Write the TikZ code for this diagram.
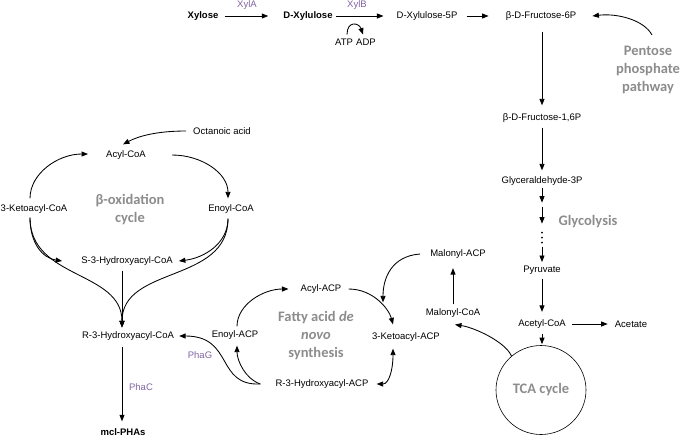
\documentclass[tikz,border=0pt]{standalone}
\usepackage{fontspec}
\setmainfont{Liberation Sans}
\newfontfamily\calibrifont{Carlito}
\usepackage{xcolor}
\usepackage{tikz}
\usetikzlibrary{arrows.meta,calc,shapes.geometric}

\definecolor{enzpurple}{RGB}{128,100,162}
\definecolor{cyclegray}{RGB}{140,140,140}

\begin{document}
\begin{tikzpicture}[x=1pt,y=1pt,yscale=-1,
  >={Triangle[length=6.5pt,width=5pt]},
  metab/.style={inner sep=2pt,font=\fontsize{9.5}{11}\selectfont},
  metabbf/.style={inner sep=2pt,font=\fontsize{9.5}{11}\selectfont\bfseries},
  enzyme/.style={inner sep=2pt,text=enzpurple,font=\fontsize{9.5}{11}\selectfont},
  cyclelbl/.style={align=center,text=cyclegray,font=\calibrifont\bfseries\fontsize{14.5}{18}\selectfont},
  reac/.style={->,line width=0.85pt}]
\path[use as bounding box] (0,0) rectangle (685,437);

% Text Node
\draw (203,16) node (xyl) [metabbf] {Xylose};
% Text Node
\draw (308,16) node (dxyl) [metabbf] {D-Xylulose};
% Text Node
\draw (427,16) node (dx5p) [metab] {D-Xylulose-5P};
% Text Node
\draw (541,16) node (fru6p) [metab] {β-D-Fructose-6P};
% Text Node
\draw (247,5) node (xyla) [enzyme] {XylA};
% Text Node
\draw (357,5) node (xylb) [enzyme] {XylB};
% Text Node
\draw (344,42) node (atp) [metab] {ATP};
% Text Node
\draw (366,42) node (adp) [metab] {ADP};
% Text Node
\draw (648,70) node (ppp) [cyclelbl] {Pentose\\phosphate\\pathway};
% Text Node
\draw (542,118) node (fru16p) [metab] {β-D-Fructose-1,6P};
% Text Node
\draw (542,181) node (gap) [metab] {Glyceraldehyde-3P};
% Text Node
\draw (588,222) node (glyc) [cyclelbl] {Glycolysis};
% Text Node
\draw (542,270) node (pyr) [metab] {Pyruvate};
% Text Node
\draw (542,324) node (acoa) [metab] {Acetyl-CoA};
% Text Node
\draw (631,324) node (acet) [metab] {Acetate};
%Shape: Ellipse
\draw (541,390) node (tca) [draw,ellipse,line width=0.6pt,minimum width=90pt,minimum height=89pt,cyclelbl] {TCA cycle};
% Text Node
\draw (453,313) node (malcoa) [metab] {Malonyl-CoA};
% Text Node
\draw (458,254) node (malacp) [metab] {Malonyl-ACP};
% Text Node
\draw (406,337) node (ketoacp) [metab] {3-Ketoacyl-ACP};
% Text Node
\draw (321,289) node (acylacp) [metab] {Acyl-ACP};
% Text Node
\draw (322,384) node (hacp) [metab] {R-3-Hydroxyacyl-ACP};
% Text Node
\draw (235,335) node (enoylacp) [metab] {Enoyl-ACP};
% Text Node
\draw (316,336) node (fas) [cyclelbl] {Fatty acid \textit{de}\\\textit{novo}\\synthesis};
% Text Node
\draw (128,336) node (rhcoa) [metab] {R-3-Hydroxyacyl-CoA};
% Text Node
\draw (200,355) node (phag) [enzyme] {PhaG};
% Text Node
\draw (141,387) node (phac) [enzyme] {PhaC};
% Text Node
\draw (123,432) node (pha) [metabbf] {mcl-PHAs};
% Text Node
\draw (222,131) node (octa) [metab] {Octanoic acid};
% Text Node
\draw (126,155) node (acylcoa) [metab] {Acyl-CoA};
% Text Node
\draw (34,209) node (ketocoa) [metab] {3-Ketoacyl-CoA};
% Text Node
\draw (231,209) node (enoylcoa) [metab] {Enoyl-CoA};
% Text Node
\draw (130,210) node (betaox) [cyclelbl] {β-oxidation\\cycle};
% Text Node
\draw (127,261) node (shcoa) [metab] {S-3-Hydroxyacyl-CoA};

\coordinate (hsplit) at ($(hacp.west)+(-13,0)$);
\coordinate (kcsplit) at ($(ketocoa.south)+(-4,2)$);
\coordinate (ecsplit) at ($(enoylcoa.south)+(-3,3)$);
\coordinate (rmerge) at ($(rhcoa.north)+(-6,-2)$);
\coordinate (gly1) at ($(gap.south)+(0,15)$);
\coordinate (gly2) at ($(gly1)+(0,21)$);

%Straight Lines
\draw [reac,shorten <=4pt,shorten >=13pt] (xyl) -- (dxyl);
%Straight Lines
\draw [reac,shorten <=1pt,shorten >=11pt] (dxyl) -- (dx5p);
%Straight Lines
\draw [reac,shorten <=7pt,shorten >=15pt] (dx5p) -- (fru6p);
%Curve Lines
\draw [reac] ($(atp.north)+(3,-2)$) .. controls +(0,-14) and +(-4,-12) .. ($(adp.north)+(-3,-2)$);
%Curve Lines
\draw [reac] ($(ppp)+(4,-35)$) .. controls +(-8,-15) and +(25,-3) .. ($(fru6p.east)+(14,0)$);
%Straight Lines
\draw [reac,shorten <=9pt,shorten >=6pt] (fru6p.south -| fru16p) -- (fru16p.north);
%Straight Lines
\draw [reac,shorten <=3pt,shorten >=4pt] (fru16p.south) -- (gap.north);
%Straight Lines
\draw [reac] (gap.south) -- (gly1);
\draw [reac] ($(gly1)+(0,4)$) -- (gly2);
\foreach \d in {9,14,19} \fill ($(gly2)+(0,\d)$) circle (0.9);
\draw [reac,shorten >=1.5pt] ($(gly2)+(0,23)$) -- (pyr.north);
%Straight Lines
\draw [reac,shorten <=3pt,shorten >=5.5pt] (pyr.south) -- (acoa.north);
%Straight Lines
\draw [reac,shorten <=4pt,shorten >=5pt] (acoa) -- (acet);
%Straight Lines
\draw [reac,shorten <=3pt,shorten >=1pt] (acoa.south) -- (acoa.south |- tca.north);
%Curve Lines
\draw [reac] (tca.131) .. controls +(-6,-14) and +(20,3) .. ($(malcoa.south)+(2,5)$);
%Straight Lines
\draw [reac,shorten <=2pt,shorten >=7.5pt] (malcoa.north) -- (malcoa.north |- malacp.south);
%Curve Lines
\draw [reac] ($(malacp.west)+(-8,0)$) .. controls +(-28,2) and +(0,-25) .. ($(ketoacp.north)+(-23,-28)$);
%Curve Lines
\draw [reac] ($(acylacp.east)+(5,0)$) .. controls +(25,0) and +(-4,-15) .. ($(ketoacp.north)+(-13,-6)$);
%Curve Lines
\draw [reac,<->] ($(ketoacp.south)+(-13,5)$) .. controls +(0,22) and +(12,0) .. ($(hacp.east)+(6,0)$);
%Curve Lines
\draw [reac] (hsplit) .. controls +(-15,-5) and +(0,15) .. ($(enoylacp.south)+(2,4)$);
%Curve Lines
\draw [reac] (hsplit) .. controls +(-45,2) and +(55,0) .. ($(rhcoa.east)+(3,0)$);
%Curve Lines
\draw [reac] ($(enoylacp.north)+(2,-2)$) .. controls +(0,-22) and +(-25,0) .. ($(acylacp.west)+(-10,0)$);
%Curve Lines
\draw [reac] ($(octa.west)+(-5,0)$) .. controls +(-30,0) and +(15,-8) .. ($(acylcoa.north)+(-3,-4)$);
%Curve Lines
\draw [reac] ($(ketocoa.north)+(-4,-4)$) .. controls +(0,-25) and +(-30,0) .. ($(acylcoa.west)+(-16,-1)$);
%Curve Lines
\draw [reac] ($(acylcoa.east)+(24,0)$) .. controls +(30,0) and +(0,-25) .. ($(enoylcoa.north)+(-3,-4)$);
%Curve Lines
\draw [reac] (kcsplit) .. controls +(0,25) and +(-20,-3) .. ($(shcoa.west)+(-17,0)$);
%Curve Lines
\draw [reac] (ecsplit) .. controls +(0,25) and +(25,-3) .. ($(shcoa.east)+(4,0)$);
%Curve Lines
\draw [reac] (kcsplit) .. controls +(0,62) and +(0,-57) .. (rmerge);
%Curve Lines
\draw [reac] (ecsplit) .. controls +(0,65) and +(0,-62) .. (rmerge);
%Straight Lines
\draw [reac] ($(shcoa.south)+(-5,3)$) -- (rmerge);
%Straight Lines
\draw [reac] ($(rhcoa.south)+(-6,4)$) -- ($(pha.north)+(-1,-5)$);

\end{tikzpicture}
\end{document}
